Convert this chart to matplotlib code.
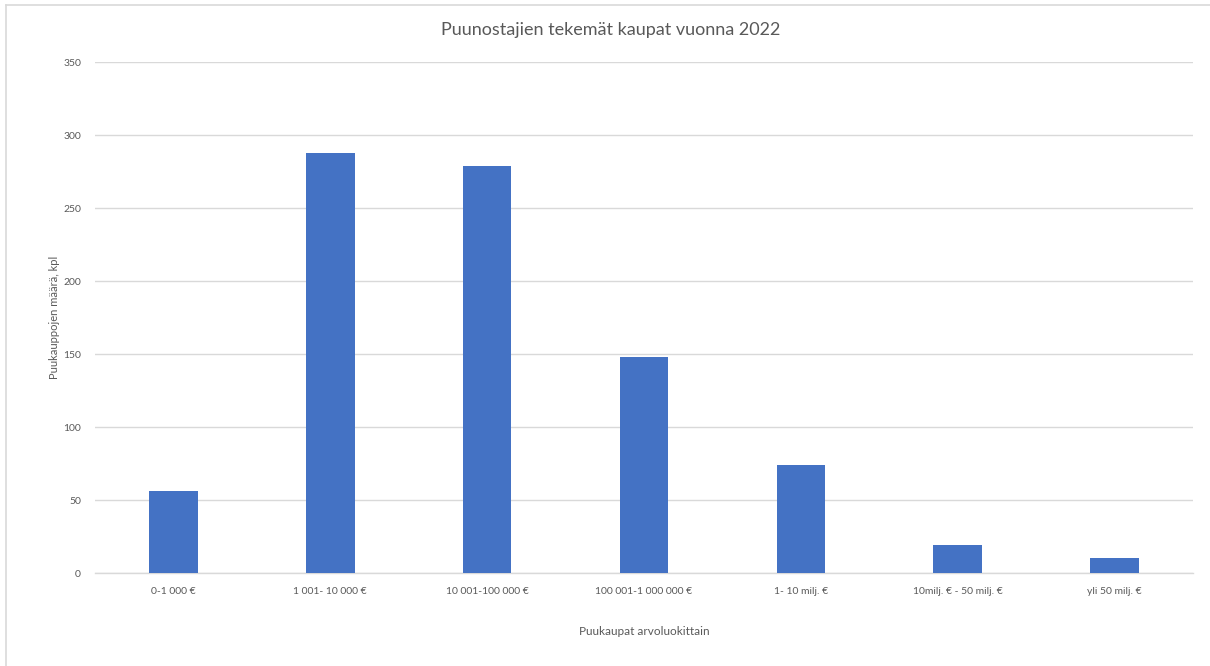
import matplotlib
matplotlib.use("Agg")
import matplotlib.pyplot as plt
from matplotlib.lines import Line2D

categories = ["0-1 000 €", "1 001- 10 000 €", "10 001-100 000 €", "100 001-1 000 000 €",
              "1- 10 milj. €", "10milj. € - 50 milj. €", "yli 50 milj. €"]
values = [56, 288, 279, 148, 74, 19, 10]
yticks = [0, 50, 100, 150, 200, 250, 300, 350]

plt.rcParams['font.family'] = ['Lato', 'DejaVu Sans']
txt = '#595959'

fig = plt.figure(figsize=(12.10, 6.66), dpi=100)
ax = fig.add_axes([0.0785, 0.1396, 0.9075, 0.7673])

x = list(range(len(categories)))
ax.bar(x, values, width=0.31, color='#4472C4', zorder=3)
ax.set_xlim(-0.5, len(categories) - 0.5)
ax.set_ylim(0, 350)
ax.set_yticks(yticks)
ax.set_xticks(x)
ax.set_xticklabels(categories, fontsize=7.5, color=txt)
ax.tick_params(axis='y', labelsize=7.5, labelcolor=txt, length=0, pad=10)
ax.tick_params(axis='x', length=0, pad=10)
ax.grid(axis='y', color='#d9d9d9', linewidth=1, zorder=0)
for s in ['top', 'right', 'left']:
    ax.spines[s].set_visible(False)
ax.spines['bottom'].set_color('#d9d9d9')
ax.spines['bottom'].set_linewidth(1)

ax.set_ylabel("Puukauppojen määrä, kpl", fontsize=8, color=txt, labelpad=2)
ax.set_xlabel("Puukaupat arvoluokittain", fontsize=8.5, color=txt, labelpad=22)
fig.text(0.5047, 0.955, "Puunostajien tekemät kaupat vuonna 2022", ha='center', va='center',
         fontsize=13, color=txt)

# outer frame (top and left visible)
fig.add_artist(Line2D([0.005, 1.0], [0.992, 0.992], transform=fig.transFigure, color='#d9d9d9', lw=1.2))
fig.add_artist(Line2D([0.005, 0.005], [0.0, 0.992], transform=fig.transFigure, color='#d9d9d9', lw=1.2))

fig.savefig("out.png", dpi=100, facecolor='white')
